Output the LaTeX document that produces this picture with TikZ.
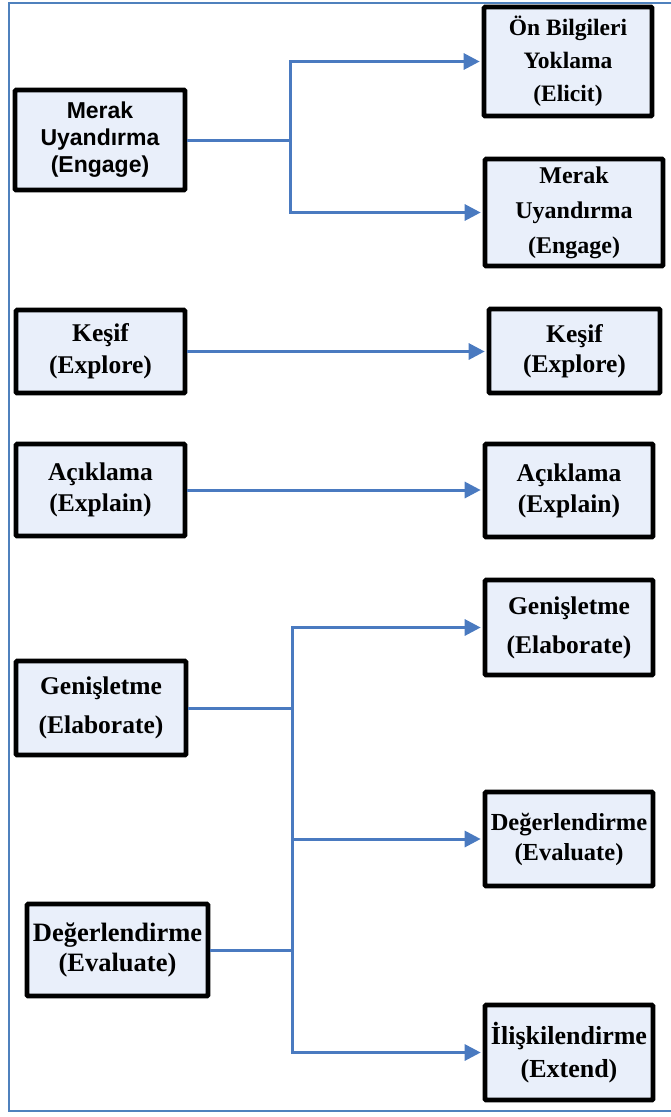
\documentclass[tikz,border=0pt]{standalone}
\usepackage{fontspec}
\setmainfont{Liberation Serif}
\newfontfamily\sansb{Liberation Sans}
\usetikzlibrary{arrows.meta}
\definecolor{boxfill}{RGB}{233,239,250}
\definecolor{linkblue}{RGB}{74,122,192}
\definecolor{framecol}{RGB}{79,129,189}
\begin{document}
\begin{tikzpicture}[x=1pt,y=-1pt,
  stagebox/.style={draw=black, line width=4.6pt, fill=boxfill, rounded corners=1pt,
    inner sep=0pt, align=center},
  conn/.style={draw=linkblue, line width=3pt},
  arr/.style={conn, -{Triangle[length=16pt,width=16pt]}, shorten >=2pt},
]
\useasboundingbox (0,0) rectangle (670,1117);
\draw[framecol, line width=2pt] (9,3) rectangle (700,1111);

% left column
\node[stagebox, minimum width=170pt, minimum height=100pt,
  font={\sansb\bfseries\fontsize{23}{27}\selectfont}] (L1) at (100,140)
  {Merak\\Uyandırma\\(Engage)};
\node[stagebox, minimum width=169pt, minimum height=83pt,
  font={\bfseries\fontsize{25.5}{32}\selectfont}] (L2) at (100.5,351.5)
  {Keşif\\(Explore)};
\node[stagebox, minimum width=169pt, minimum height=92pt,
  font={\bfseries\fontsize{25.5}{31}\selectfont}] (L3) at (100.5,490)
  {Açıklama\\(Explain)};
\node[stagebox, minimum width=170pt, minimum height=94pt,
  font={\bfseries\fontsize{25.5}{39}\selectfont}] (L4) at (101,708)
  {Genişletme\\(Elaborate)};
\node[stagebox, minimum width=181pt, minimum height=92pt,
  font={\bfseries\fontsize{26.5}{30}\selectfont}] (L5) at (117.5,950)
  {Değerlendirme\\(Evaluate)};

% right column
\node[stagebox, minimum width=168pt, minimum height=109pt,
  font={\bfseries\fontsize{23.5}{33}\selectfont}] (R1) at (568,61.5)
  {Ön Bilgileri\\Yoklama\\(Elicit)};
\node[stagebox, minimum width=178pt, minimum height=107pt,
  font={\bfseries\fontsize{24}{35}\selectfont}] (R2) at (574,212.5)
  {Merak\\Uyandırma\\(Engage)};
\node[stagebox, minimum width=171pt, minimum height=84pt,
  font={\bfseries\fontsize{25.5}{30}\selectfont}] (R3) at (574.5,351)
  {Keşif\\(Explore)};
\node[stagebox, minimum width=168pt, minimum height=93pt,
  font={\bfseries\fontsize{25.5}{31}\selectfont}] (R4) at (569,490.5)
  {Açıklama\\(Explain)};
\node[stagebox, minimum width=168pt, minimum height=95pt,
  font={\bfseries\fontsize{25.5}{39}\selectfont}] (R5) at (569,627.5)
  {Genişletme\\(Elaborate)};
\node[stagebox, minimum width=168pt, minimum height=94pt,
  font={\bfseries\fontsize{24.5}{30}\selectfont}] (R6) at (569,839)
  {Değerlendirme\\(Evaluate)};
\node[stagebox, minimum width=168pt, minimum height=95pt,
  font={\bfseries\fontsize{26}{33}\selectfont}] (R7) at (569,1052.5)
  {İlişkilendirme\\(Extend)};

% junction columns
\coordinate (ja) at (290,0);
\coordinate (jb) at (292,0);

% connectors
\draw[conn] (L1.east) -- (L1.east -| ja);
\draw[arr] (L1.east -| ja) |- (R1.west);
\draw[arr] (L1.east -| ja) |- (R2.west);

\draw[arr] (L2.east) -- (L2.east -| R3.west);
\draw[arr] (L3.east) -- (L3.east -| R4.west);

\draw[conn] (L4.east) -- (L4.east -| jb);
\draw[conn] (L5.east) -- (L5.east -| jb);
\draw[conn] (L4.east -| jb) -- (L5.east -| jb);
\draw[arr] (L4.east -| jb) |- (R5.west);
\draw[arr] (R6.west -| jb) -- (R6.west);
\draw[arr] (L5.east -| jb) |- (R7.west);
\end{tikzpicture}
\end{document}
